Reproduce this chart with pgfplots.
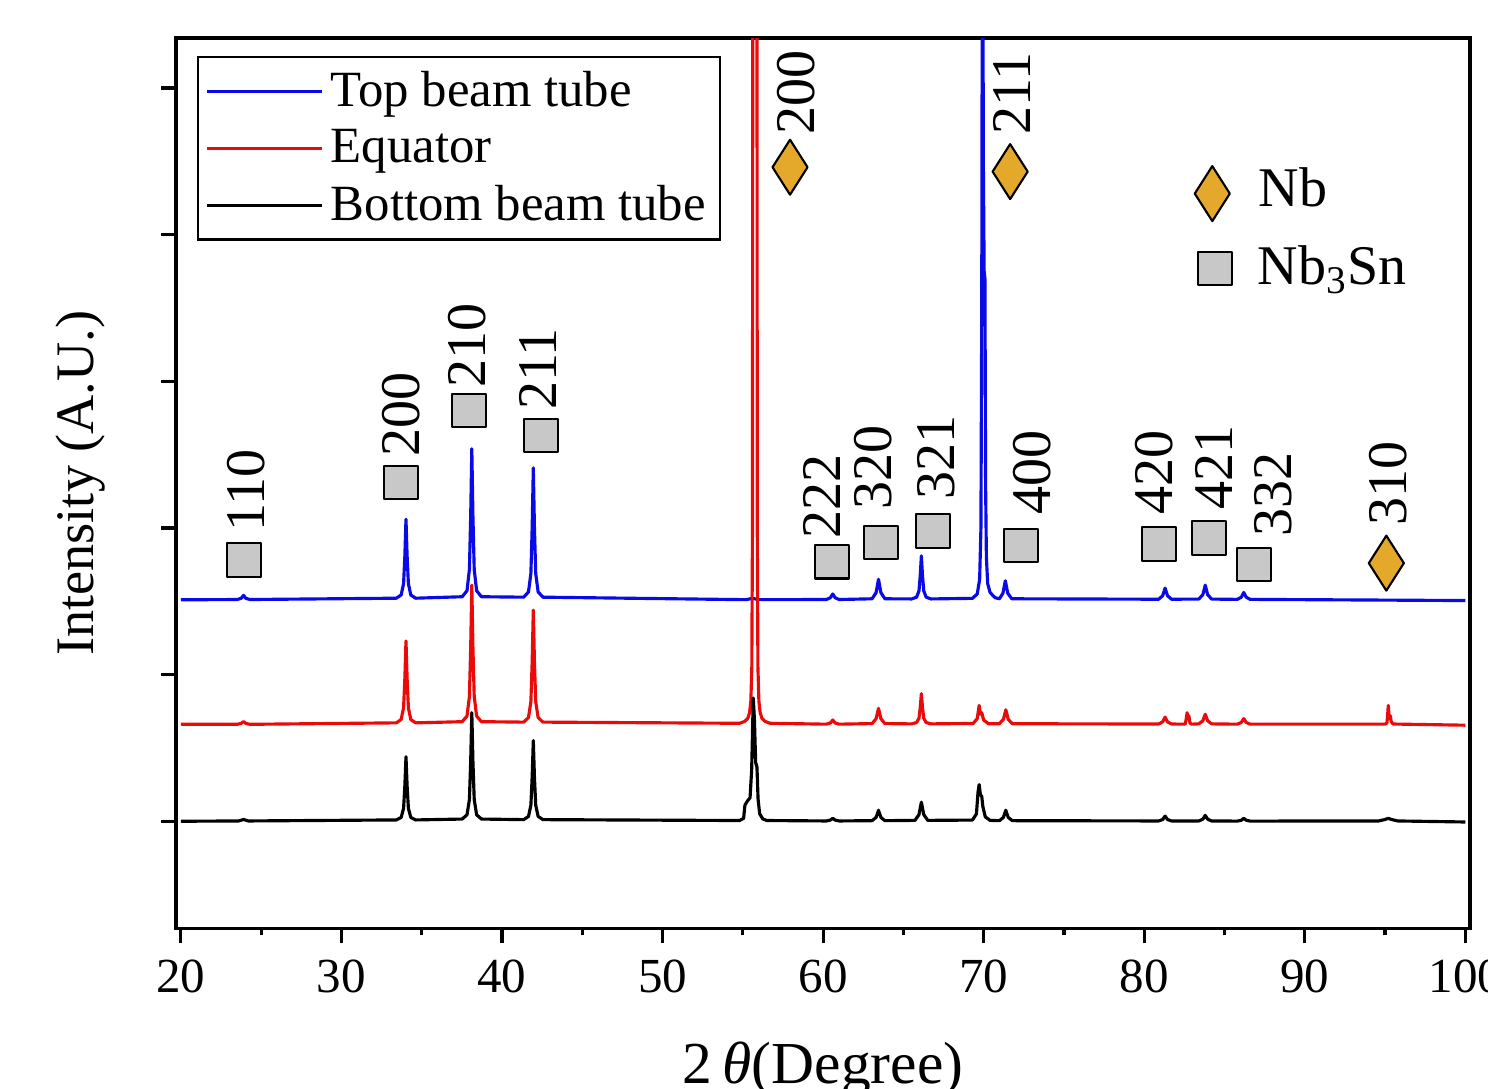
\documentclass[border=0pt]{standalone}
\usepackage{fontspec}
\setmainfont{Liberation Serif}
\usepackage{pgfplots}
\pgfplotsset{compat=1.18}
\usetikzlibrary{calc}
\definecolor{topblue}{RGB}{10,10,230}
\definecolor{eqred}{RGB}{235,10,10}
\definecolor{nbgold}{RGB}{228,168,42}
\definecolor{sqgray}{RGB}{200,200,200}
\newcommand{\annfont}{\fontsize{16}{18}\selectfont}

\begin{document}
\begin{tikzpicture}
\begin{axis}[
    scale only axis, width=369.7pt, height=254.3pt,
    xmin=19.7, xmax=100.3, ymin=-0.73, ymax=5.34,
    xtick={20,30,...,100}, minor x tick num=1,
    ytick={0,1,...,5}, yticklabels={},
    xtick pos=bottom, ytick pos=left, tick align=outside,
    major tick length=4.3pt, minor tick length=2pt,
    axis line style={line width=1pt},
    tick style={black, line width=0.9pt},
    /pgf/number format/assume math mode=true,
    ticklabel style={font=\fontsize{14}{16}\selectfont},
    xticklabel style={yshift=-1.2pt},
    xlabel={2\,\textit{θ}(Degree)},
    xlabel style={font=\fontsize{17}{19}\selectfont, at={(axis description cs:0.5,-0.1585)}, anchor=center},
    ylabel={Intensity (A.U.)},
    ylabel style={font=\fontsize{15.5}{18}\selectfont, at={(axis description cs:-0.0741,0.5)}, anchor=center},
    legend style={at={(axis description cs:0.0162,0.980)}, anchor=north west,
        draw=black, line width=0.7pt, font=\fontsize{14.5}{16}\selectfont,
        inner xsep=2pt, inner ysep=2pt, row sep=1pt},
    legend cell align=left,
    legend image code/.code={\draw[#1] (0pt,0pt) -- (33pt,0pt);},
    every axis plot/.append style={line width=0.9pt, line join=round},
]
\coordinate (bl) at (rel axis cs:0,0);
\coordinate (tr) at (rel axis cs:1,1);

% top beam tube
\addplot[color=topblue] coordinates {
(20,1.51)(23.5,1.512)(23.75,1.52)(23.9,1.54)(24.05,1.52)(24.3,1.512)
(33.42,1.521)(33.72,1.543)(33.87,1.62)(33.95,1.81)(34.02,2.06)(34.09,1.81)(34.17,1.62)(34.32,1.543)(34.62,1.521)
(37.52,1.531)(37.82,1.572)(37.97,1.716)(38.05,2.077)(38.12,2.54)(38.19,2.077)(38.27,1.716)(38.42,1.572)(38.72,1.531)
(41.35,1.528)(41.65,1.564)(41.8,1.69)(41.88,2.005)(41.95,2.41)(42.02,2.005)(42.1,1.69)(42.25,1.564)(42.55,1.528)
(55.2,1.511)(55.6,1.52)(56.0,1.511)
(60.2,1.512)(60.45,1.524)(60.6,1.55)(60.75,1.524)(61.0,1.512)
(63.05,1.517)(63.3,1.559)(63.45,1.65)(63.6,1.559)(63.85,1.517)
(65.52,1.516)(65.82,1.528)(65.97,1.57)(66.05,1.675)(66.12,1.81)(66.19,1.675)(66.27,1.57)(66.42,1.528)(66.72,1.516)
(69.3,1.52)(69.6,1.55)(69.75,1.65)(69.83,2.0)(69.88,3.5)(69.93,7.0)(69.98,4.5)(70.03,3.75)(70.08,3.7)(70.12,2.3)(70.17,1.8)(70.25,1.62)(70.4,1.56)(70.7,1.525)
(70.98,1.517)(71.2,1.555)(71.35,1.64)(71.5,1.555)(71.75,1.517)
(80.9,1.514)(81.15,1.538)(81.3,1.59)(81.45,1.538)(81.7,1.514)
(83.4,1.515)(83.65,1.545)(83.8,1.61)(83.95,1.545)(84.2,1.515)
(85.8,1.513)(86.05,1.528)(86.2,1.56)(86.35,1.528)(86.6,1.513)
(100,1.505)};
\addlegendentry{Top beam tube}

% equator
\addplot[color=eqred] coordinates {
(20,0.662)(23.5,0.661)(23.75,0.667)(23.9,0.68)(24.05,0.667)(24.3,0.661)
(33.42,0.671)(33.72,0.694)(33.87,0.774)(33.95,0.974)(34.02,1.23)(34.09,0.974)(34.17,0.774)(34.32,0.694)(34.62,0.671)
(37.52,0.679)(37.82,0.717)(37.97,0.85)(38.05,1.183)(38.12,1.61)(38.19,1.183)(38.27,0.85)(38.42,0.717)(38.72,0.679)
(41.35,0.676)(41.65,0.707)(41.8,0.816)(41.88,1.089)(41.95,1.44)(42.02,1.089)(42.1,0.816)(42.25,0.707)(42.55,0.676)
(54.8,0.668)(55.1,0.68)(55.3,0.7)(55.42,0.74)(55.5,0.82)(55.56,1.05)(55.6,2.0)(55.63,8)(55.87,8)(55.9,2.0)(55.94,1.05)(56.0,0.82)(56.08,0.74)(56.2,0.7)(56.4,0.68)(56.7,0.668)
(60.2,0.662)(60.45,0.67)(60.6,0.69)(60.75,0.67)(61.0,0.662)
(63.05,0.666)(63.3,0.699)(63.45,0.77)(63.6,0.699)(63.85,0.666)
(65.52,0.664)(65.82,0.673)(65.97,0.702)(66.05,0.776)(66.12,0.87)(66.19,0.776)(66.27,0.702)(66.42,0.673)(66.72,0.664)
(69.35,0.667)(69.6,0.7)(69.72,0.79)(69.8,0.73)(69.88,0.74)(70.0,0.69)(70.3,0.665)
(70.98,0.665)(71.23,0.695)(71.38,0.76)(71.53,0.695)(71.78,0.665)
(80.9,0.663)(81.15,0.678)(81.3,0.71)(81.45,0.678)(81.7,0.663)
(82.55,0.662)(82.62,0.7)(82.67,0.74)(82.72,0.7)(82.78,0.72)(82.85,0.67)(82.95,0.662)
(83.4,0.664)(83.65,0.685)(83.8,0.73)(83.95,0.685)(84.2,0.664)
(85.8,0.662)(86.05,0.674)(86.2,0.70)(86.35,0.674)(86.6,0.662)
(95.0,0.662)(95.12,0.67)(95.17,0.74)(95.2,0.79)(95.24,0.73)(95.28,0.7)(95.33,0.72)(95.38,0.68)(95.5,0.663)
(100,0.655)};
\addlegendentry{Equator}

% bottom beam tube
\addplot[color=black] coordinates {
(20,0.0)(23.6,0.002)(23.9,0.012)(24.2,0.002)
(33.42,0.009)(33.72,0.026)(33.87,0.088)(33.95,0.242)(34.02,0.44)(34.09,0.242)(34.17,0.088)(34.32,0.026)(34.62,0.009)
(37.52,0.015)(37.82,0.044)(37.97,0.148)(38.05,0.407)(38.12,0.74)(38.19,0.407)(38.27,0.148)(38.42,0.044)(38.72,0.015)
(41.35,0.011)(41.65,0.033)(41.8,0.11)(41.88,0.303)(41.95,0.55)(42.02,0.303)(42.1,0.11)(42.25,0.033)(42.55,0.011)
(54.8,0.005)(55.05,0.02)(55.13,0.11)(55.3,0.14)(55.45,0.16)(55.55,0.35)(55.65,0.84)(55.72,0.7)(55.8,0.4)(55.88,0.37)(55.95,0.15)(56.05,0.05)(56.25,0.015)(56.5,0.005)
(60.2,0.002)(60.45,0.008)(60.6,0.02)(60.75,0.008)(61.0,0.002)
(63.05,0.004)(63.3,0.026)(63.45,0.075)(63.6,0.026)(63.85,0.004)
(65.72,0.006)(65.97,0.045)(66.12,0.13)(66.27,0.045)(66.52,0.006)
(69.3,0.008)(69.55,0.05)(69.65,0.2)(69.72,0.25)(69.8,0.18)(69.88,0.17)(69.95,0.1)(70.1,0.03)(70.4,0.006)
(70.98,0.004)(71.23,0.026)(71.38,0.075)(71.53,0.026)(71.78,0.004)
(80.9,0.002)(81.15,0.012)(81.3,0.035)(81.45,0.012)(81.7,0.002)
(83.4,0.002)(83.65,0.014)(83.8,0.04)(83.95,0.014)(84.2,0.002)
(85.8,0.001)(86.05,0.007)(86.2,0.02)(86.35,0.007)(86.6,0.001)
(94.6,0.002)(95.0,0.012)(95.2,0.02)(95.4,0.012)(95.8,0.002)
(100,-0.005)};
\addlegendentry{Bottom beam tube}

% phase markers: Nb3Sn squares, Nb diamonds
\addplot[only marks, forget plot, mark=square*, mark size=4.8pt,
    mark options={fill=sqgray, draw=black, line width=0.6pt}] coordinates {
(23.93,1.78)(33.71,2.31)(37.94,2.80)(42.43,2.63)(60.56,1.77)(63.61,1.90)
(66.85,1.98)(72.34,1.88)(80.93,1.89)(84.05,1.93)(86.85,1.75)(84.42,3.77)};
\addplot[only marks, forget plot, mark=diamond*, mark size=7.86pt,
    mark options={fill=nbgold, draw=black, line width=0.6pt, xscale=0.85}] coordinates {
(57.94,4.46)(71.65,4.43)(95.08,1.76)(84.24,4.28)};

\begin{scope}[every node/.style={rotate=90, anchor=west, inner sep=0pt, font=\annfont}]
\node at (axis cs:24.05,1.97) {110};
\node at (axis cs:33.71,2.48) {200};
\node at (axis cs:37.82,2.95) {210};
\node at (axis cs:42.24,2.80) {211};
\node at (axis cs:58.32,4.68) {200};
\node at (axis cs:71.78,4.68) {211};
\node at (axis cs:59.94,1.92) {222};
\node at (axis cs:63.12,2.12) {320};
\node at (axis cs:67.04,2.19) {321};
\node at (axis cs:73.02,2.09) {400};
\node at (axis cs:80.62,2.09) {420};
\node at (axis cs:84.36,2.12) {421};
\node at (axis cs:88.03,1.94) {332};
\node at (axis cs:95.2,2.01) {310};
\end{scope}
\node[anchor=base west, inner sep=0pt, font=\annfont] at (axis cs:87.1,4.19) {Nb};
\node[anchor=base west, inner sep=0pt, font=\annfont] at (axis cs:87.04,3.66) {Nb\textsubscript{3}Sn};
\end{axis}
\pgfresetboundingbox
\useasboundingbox ($(bl)+(-50.3pt,-45.7pt)$) rectangle ($(tr)+(5.1pt,10.9pt)$);
\end{tikzpicture}
\end{document}
